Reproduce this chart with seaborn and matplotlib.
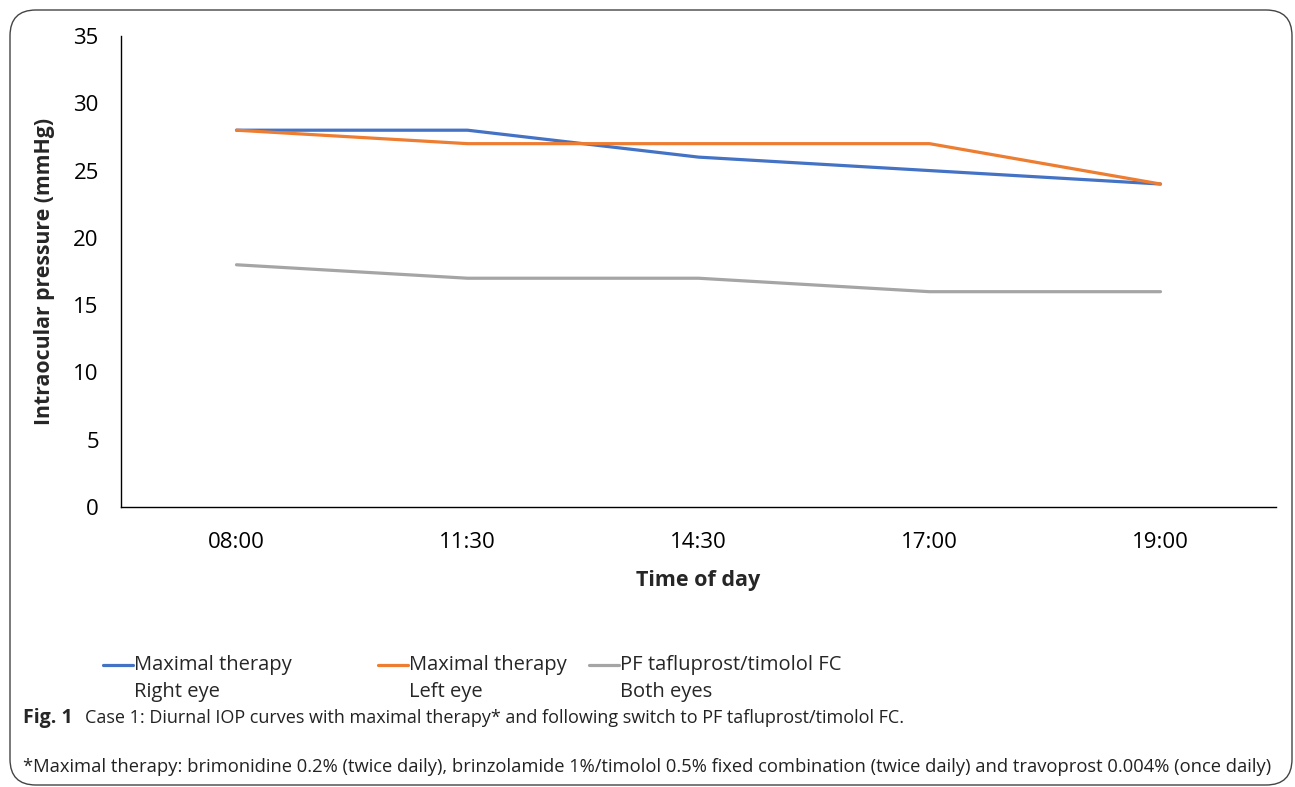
import numpy as np
import pandas as pd
import matplotlib
matplotlib.use("Agg")
import matplotlib.pyplot as plt
from matplotlib.patches import FancyBboxPatch
from matplotlib.legend_handler import HandlerLine2D
import seaborn as sns

# Data
times = ['08:00', '11:30', '14:30', '17:00', '19:00']
right_eye = [28, 28, 26, 25, 24]
left_eye = [28, 27, 27, 27, 24]
both_eyes = [18, 17, 17, 16, 16]
series_names = ['Maximal therapy\nRight eye', 'Maximal therapy\nLeft eye',
                'PF tafluprost/timolol FC\nBoth eyes']
colors = ['#4472C4', '#ED7D31', '#A5A5A5']

df = pd.DataFrame({
    'time': times * 3,
    'iop': right_eye + left_eye + both_eyes,
    'series': np.repeat(series_names, len(times)),
})

sns.set_style('white')
plt.rcParams['font.family'] = ['Open Sans', 'DejaVu Sans']

W, H = 1295, 787
fig = plt.figure(figsize=(W / 100, H / 100), dpi=100)

# rounded frame around the figure
frame = FancyBboxPatch((10 / W, 2 / H), 1282 / W, 775 / H,
                       boxstyle='round,pad=0,rounding_size=0.02',
                       transform=fig.transFigure, fill=False,
                       edgecolor='#444444', linewidth=1.0, mutation_aspect=W / H)
fig.patches.append(frame)

ax = fig.add_axes([121 / W, 1 - 507 / H, (1276 - 121) / W, (507 - 36) / H])
sns.lineplot(data=df, x='time', y='iop', hue='series', palette=colors,
             linewidth=2.3, sort=False, ax=ax, legend=False)

ax.set_xlim(-0.5, 4.5)
ax.set_ylim(0, 35)
ax.set_yticks(range(0, 36, 5))
ax.tick_params(axis='both', length=0, labelsize=16, colors='#000000')
ax.tick_params(axis='x', pad=18)
ax.tick_params(axis='y', pad=16)
ax.set_xlabel('Time of day', fontsize=15.5, fontweight='bold', labelpad=12)
ax.set_ylabel('Intraocular pressure (mmHg)', fontsize=15.3, fontweight='bold')
ax.yaxis.set_label_coords(-66 / 1155, 0.5)
for s in ['top', 'right']:
    ax.spines[s].set_visible(False)
for s in ['left', 'bottom']:
    ax.spines[s].set_color('#000000')
    ax.spines[s].set_linewidth(1.0)


class TopLine(HandlerLine2D):
    # put the handle next to the first line of a two-line label
    def create_artists(self, legend, orig_handle, xdescent, ydescent,
                       width, height, fontsize, trans):
        arts = super().create_artists(legend, orig_handle, xdescent, ydescent,
                                      width, height, fontsize, trans)
        for a in arts:
            a.set_ydata(np.asarray(a.get_ydata()) + fontsize * 0.68)
        return arts


legend_x = [85, 360, 571]
for name, c, lx in zip(series_names, colors, legend_x):
    h = plt.Line2D([], [], color=c, linewidth=2.3)
    leg = fig.legend([h], [name], loc='upper left',
                     bbox_to_anchor=(lx / W, 1 - 637 / H), frameon=False,
                     fontsize=14.5, handlelength=1.5, handletextpad=0.05,
                     handler_map={plt.Line2D: TopLine()})
    for t in leg.get_texts():
        t.set_linespacing(1.45)

fig.text(23 / W, 1 - 718 / H, 'Fig. 1', fontsize=14, fontweight='bold', va='center')
fig.text(85 / W, 1 - 718 / H,
         'Case 1: Diurnal IOP curves with maximal therapy* and following switch to PF tafluprost/timolol FC.',
         fontsize=13, va='center', color='#222222')
fig.text(23 / W, 1 - 767 / H,
         '*Maximal therapy: brimonidine 0.2% (twice daily), brinzolamide 1%/timolol 0.5% fixed combination (twice daily) and travoprost 0.004% (once daily)',
         fontsize=13.2, va='center', color='#222222')

fig.savefig('out.png', dpi=100)
